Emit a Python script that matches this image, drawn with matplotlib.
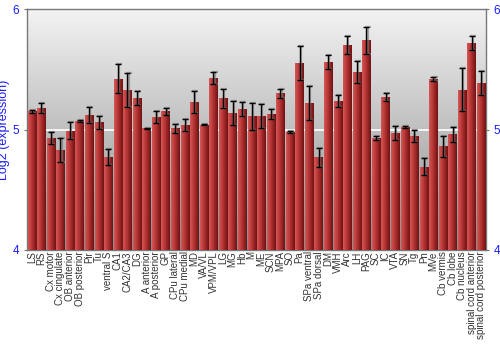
import numpy as np
import matplotlib
matplotlib.use('Agg')
import matplotlib.pyplot as plt
from matplotlib.colors import LinearSegmentedColormap

plt.rcParams['font.family'] = ['Liberation Sans', 'DejaVu Sans']

regions = ['LS', 'RS', 'Cx motor', 'Cx cingulate', 'OB anterior', 'OB posterior',
           'Pir', 'Tu', 'ventral S', 'CA1', 'CA2/CA3', 'DG', 'A anterior',
           'A posterior', 'GP', 'CPu lateral', 'CPu medial', 'MD', 'VA/VL',
           'VPM/VPL', 'LG', 'MG', 'Hb', 'M', 'ME', 'SCN', 'MPA', 'SO', 'Pa',
           'SPa ventral', 'SPa dorsal', 'DM', 'VMH', 'Arc', 'LH', 'PAG', 'SC',
           'IC', 'VTA', 'SN', 'Tg', 'Pn', 'MVe', 'Cb vermis', 'Cb lobe',
           'Cb nucleus', 'spinal cord anterior', 'spinal cord posterior']

expr = [5.15, 5.18, 4.93, 4.83, 4.99, 5.07, 5.12, 5.06, 4.77, 5.42, 5.33, 5.26,
        5.01, 5.10, 5.15, 5.01, 5.04, 5.23, 5.04, 5.43, 5.26, 5.14, 5.17, 5.11,
        5.11, 5.13, 5.30, 4.98, 5.55, 5.22, 4.77, 5.56, 5.24, 5.70, 5.48, 5.74,
        4.93, 5.27, 4.97, 5.02, 4.95, 4.69, 5.42, 4.86, 4.96, 5.33, 5.72, 5.39]

err = [0.01, 0.04, 0.05, 0.10, 0.07, 0.005, 0.07, 0.055, 0.065, 0.12, 0.14, 0.06,
       0.005, 0.05, 0.03, 0.035, 0.05, 0.09, 0.005, 0.05, 0.08, 0.10, 0.06, 0.11,
       0.10, 0.04, 0.04, 0.005, 0.14, 0.14, 0.08, 0.06, 0.05, 0.075, 0.09, 0.11,
       0.02, 0.03, 0.06, 0.005, 0.05, 0.07, 0.015, 0.09, 0.06, 0.18, 0.06, 0.10]

blue = '#1a1aff'

fig = plt.figure(figsize=(5, 3.5), dpi=100)
ax = fig.add_axes([0.054, 0.286, 0.918, 0.688])

x = np.arange(len(regions))
ax.set_xlim(-0.5, len(regions) - 0.5)
ax.set_ylim(4, 6)

# gray gradient background
bg = LinearSegmentedColormap.from_list('bg', ['#8c8c8c', '#f3f3f3'])
ax.imshow(np.linspace(0, 1, 256).reshape(-1, 1), cmap=bg, aspect='auto',
          extent=(-0.5, len(regions) - 0.5, 4, 6), origin='lower', zorder=0)

ax.axhline(5, color='white', lw=1.2, zorder=1)

bars = ax.bar(x, expr, width=0.88, bottom=0, color='#b83232',
              edgecolor='none', zorder=2)

# horizontal shading on each bar
red = LinearSegmentedColormap.from_list('red', ['#d45858', '#c03c3c', '#9a2626', '#6e1414'])
grad = np.linspace(0, 1, 64).reshape(1, -1)
for b in bars:
    im = ax.imshow(grad, cmap=red, aspect='auto', zorder=3,
                   extent=(b.get_x(), b.get_x() + b.get_width(), 4, b.get_height()))
    im.set_clip_path(b)

ax.errorbar(x + 0.12, expr, yerr=err, fmt='none', ecolor='#777777', elinewidth=1.6,
            capsize=2.2, capthick=1.6, alpha=0.6, zorder=4)
ax.errorbar(x, expr, yerr=err, fmt='none', ecolor='black', elinewidth=1,
            capsize=2, capthick=1, zorder=5)

ax.set_yticks([4, 5, 6])
ax.tick_params(axis='y', colors='#777777', labelcolor=blue, labelsize=8.5,
               length=2, right=True, labelright=True)
ax.set_xticks(x)
ax.set_xticklabels(regions, rotation=90, fontsize=7, color='#333333')
ax.tick_params(axis='x', length=0, pad=1)
ax.set_ylabel('Log2 (expression)', color=blue, fontsize=9)
ax.yaxis.set_label_coords(-0.036, 0.5)

for s in ax.spines.values():
    s.set_color('#777777')
    s.set_linewidth(1)

fig.savefig('out.png', dpi=100)
